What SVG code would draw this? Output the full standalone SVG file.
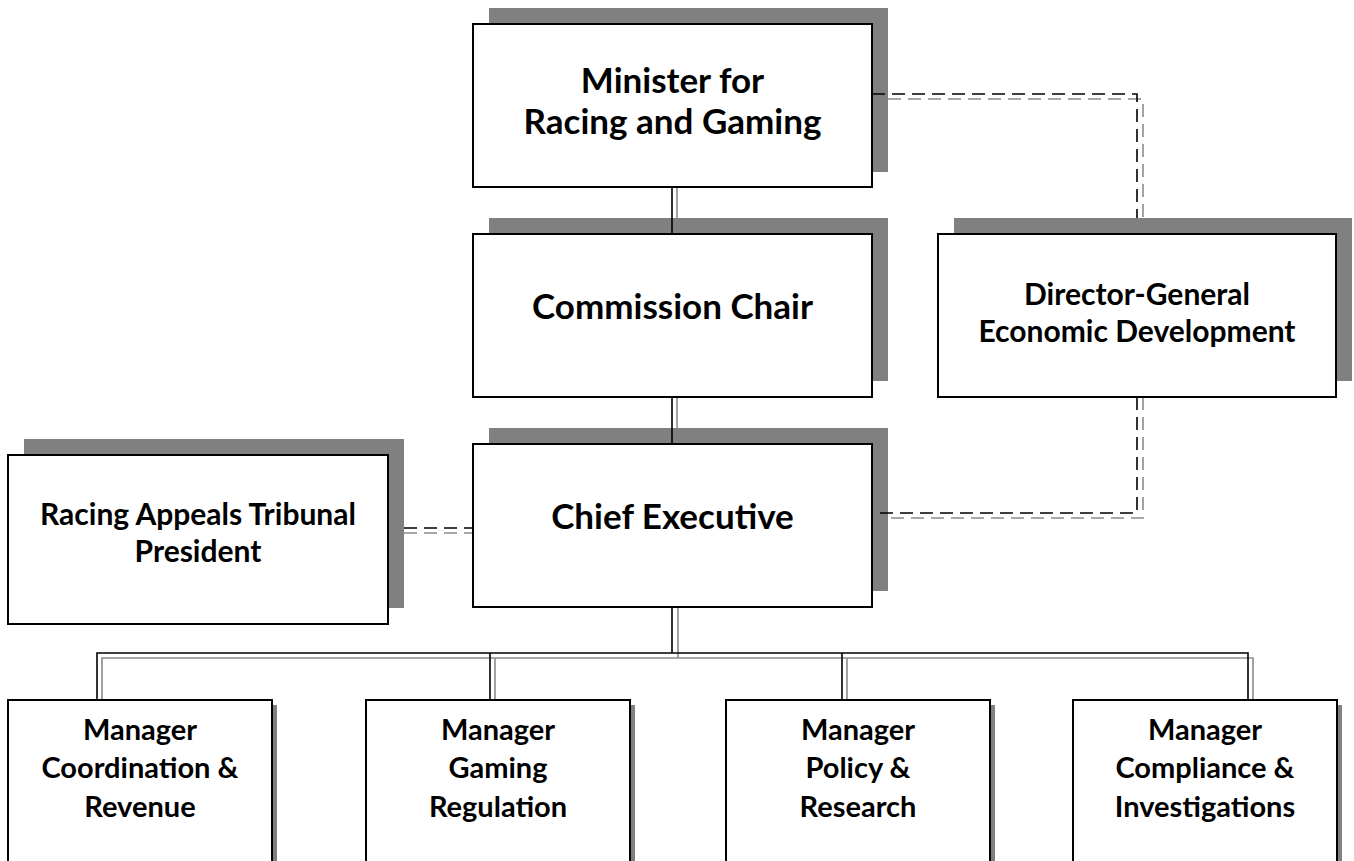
<svg xmlns="http://www.w3.org/2000/svg" width="1354" height="861" viewBox="0 0 1354 861">
<style>
.sh{fill:#808080}
.bx{fill:#fff;stroke:#000;stroke-width:2}
.t{font-family:Lato,"Liberation Sans",sans-serif;font-weight:bold;fill:#000;text-anchor:middle}
.big{font-size:35px}
.mid{font-size:30px}
.sm{font-size:29px}
.cb{stroke:#000;stroke-width:1.6;fill:none}
.cg{stroke:#8c8c8c;stroke-width:1.6;fill:none}
.d{stroke-dasharray:13 7}
</style>
<rect width="1354" height="861" fill="#fff"/>
<g id="connectors-gray">
<path class="cg" d="M677 187V218M677 397V428M678 607V658M102 700V658H1253V700M495 658V700M847 658V700"/>
<path class="cg d" d="M888 99H1143V218M1143 397V518H888M404 533H473"/>
</g>
<g id="shadows">
<rect class="sh" x="489" y="8" width="399" height="164"/>
<rect class="sh" x="489" y="218" width="399" height="163"/>
<rect class="sh" x="489" y="428" width="399" height="163"/>
<rect class="sh" x="954" y="218" width="398" height="163"/>
<rect class="sh" x="24" y="439" width="380" height="169"/>
<rect class="sh" x="13" y="705" width="264" height="170"/>
<rect class="sh" x="371" y="705" width="264" height="170"/>
<rect class="sh" x="731" y="705" width="264" height="170"/>
<rect class="sh" x="1078" y="705" width="264" height="170"/>
</g>
<g id="connectors">
<path class="cb" d="M672 187V234M672 397V444M672 607V653M97 700V653H1248V700M490 653V700M842 653V700"/>
<path class="cb d" d="M872 94H1137V218M1137 397V513H872M404 528H473"/>
</g>
<g id="minister">
<rect class="bx" x="473" y="24" width="399" height="163"/>
<text class="t big" x="672.5" y="93">Minister for</text>
<text class="t big" x="672.5" y="134">Racing and Gaming</text>
</g>
<g id="commission-chair">
<rect class="bx" x="473" y="234" width="399" height="163"/>
<text class="t big" x="672.5" y="319">Commission Chair</text>
</g>
<g id="chief-executive">
<rect class="bx" x="473" y="444" width="399" height="163"/>
<text class="t big" x="672.5" y="529">Chief Executive</text>
</g>
<g id="director-general">
<rect class="bx" x="938" y="234" width="398" height="163"/>
<text class="t mid" x="1137" y="305">Director-General</text>
<text class="t mid" x="1137" y="342">Economic Development</text>
</g>
<g id="racing-appeals">
<rect class="bx" x="8" y="455" width="380" height="169"/>
<text class="t mid" x="198" y="525">Racing Appeals Tribunal</text>
<text class="t mid" x="198" y="562">President</text>
</g>
<g id="mgr-coordination">
<rect class="bx" x="8" y="700" width="264" height="170"/>
<text class="t sm" x="140" y="740">Manager</text>
<text class="t sm" x="140" y="778">Coordination &amp;</text>
<text class="t sm" x="140" y="817">Revenue</text>
</g>
<g id="mgr-gaming">
<rect class="bx" x="366" y="700" width="264" height="170"/>
<text class="t sm" x="498" y="740">Manager</text>
<text class="t sm" x="498" y="778">Gaming</text>
<text class="t sm" x="498" y="817">Regulation</text>
</g>
<g id="mgr-policy">
<rect class="bx" x="726" y="700" width="264" height="170"/>
<text class="t sm" x="858" y="740">Manager</text>
<text class="t sm" x="858" y="778">Policy &amp;</text>
<text class="t sm" x="858" y="817">Research</text>
</g>
<g id="mgr-compliance">
<rect class="bx" x="1073" y="700" width="264" height="170"/>
<text class="t sm" x="1205" y="740">Manager</text>
<text class="t sm" x="1205" y="778">Compliance &amp;</text>
<text class="t sm" x="1205" y="817">Investigations</text>
</g>
</svg>
